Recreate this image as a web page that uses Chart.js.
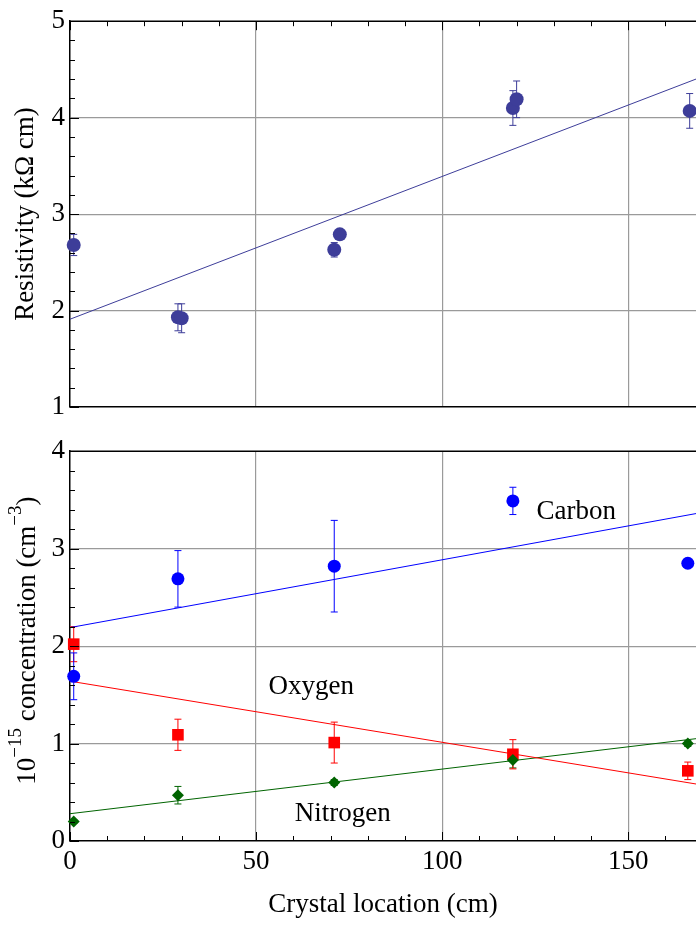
<!DOCTYPE html>
<html>
<head>
<meta charset="utf-8">
<script src="https://cdn.jsdelivr.net/npm/chart.js@4/dist/chart.umd.min.js"></script>
<style>
  body { margin: 0; background: #fff; }
  canvas { display: block; }
</style>
</head>
<body>
<canvas id="resChart" width="696" height="430"></canvas>
<canvas id="concChart" width="696" height="495"></canvas>
<script>
// resistivity samples (top panel)
var resX = [1, 29, 30, 71, 72.5, 119, 120, 166.5];
var resY = [2.68, 1.93, 1.92, 2.63, 2.79, 4.10, 4.19, 4.07];
var resErr = [0.11, 0.14, 0.15, 0.075, 0.03, 0.18, 0.19, 0.18];

// ends of the fitted straight lines
var fitX = [0, 168.2];
var resFit = [1.91, 4.40];

// impurity concentrations (bottom panel)
var locX = [1, 29, 71, 119, 166];
var carbonY = [1.69, 2.69, 2.82, 3.49, 2.85];
var carbonErr = [0.24, 0.29, 0.47, 0.14, 0];
var oxygenY = [2.02, 1.09, 1.01, 0.89, 0.72];
var oxygenErr = [0.18, 0.16, 0.21, 0.15, 0.09];
var nitrogenY = [0.20, 0.47, 0.60, 0.83, 1.00];
var nitrogenErr = [0.02, 0.09, 0.03, 0.08, 0.03];
var carbonFit = [2.19, 3.36];
var oxygenFit = [1.64, 0.585];
var nitrogenFit = [0.28, 1.05];

var serif = "'Liberation Serif', 'Times New Roman', serif";
Chart.defaults.font.family = serif;
Chart.defaults.font.size = 27;
Chart.defaults.color = '#000';

function pts(xs, ys) {
    return xs.map(function (x, i) { return { x: x, y: ys[i] }; });
}

function gridColor(c) {
    var s = c.scale;
    return (c.tick.value > s.min + 1e-6 && c.tick.value < s.max - 1e-6) ? '#9a9a9a' : 'rgba(0,0,0,0)';
}

// error bars under the markers
var errorBars = {
    id: 'errorBars',
    beforeDatasetsDraw: function (chart) {
        var ctx = chart.ctx, xs = chart.scales.x, ys = chart.scales.y;
        chart.data.datasets.forEach(function (ds) {
            if (!ds.errors) return;
            ctx.save();
            ctx.strokeStyle = ds.borderColor;
            ctx.lineWidth = 1;
            ds.data.forEach(function (p, i) {
                var e = ds.errors[i];
                if (!e) return;
                var px = xs.getPixelForValue(p.x);
                var top = ys.getPixelForValue(p.y + e);
                var bot = ys.getPixelForValue(p.y - e);
                ctx.beginPath();
                ctx.moveTo(px, top); ctx.lineTo(px, bot);
                ctx.moveTo(px - 3.5, top); ctx.lineTo(px + 3.5, top);
                ctx.moveTo(px - 3.5, bot); ctx.lineTo(px + 3.5, bot);
                ctx.stroke();
            });
            ctx.restore();
        });
    }
};

// frame line on top plus the small inward ticks
var frame = {
    id: 'frame',
    afterDraw: function (chart, args, opts) {
        var ctx = chart.ctx, a = chart.chartArea;
        var xs = chart.scales.x, ys = chart.scales.y;
        ctx.save();
        ctx.strokeStyle = '#000';
        ctx.lineWidth = 1;
        for (var v = ys.min; v <= ys.max + 1e-6; v += 0.2) {
            var py = Math.round(ys.getPixelForValue(v)) + 0.5;
            var len = Math.abs(v - Math.round(v)) < 1e-6 ? 9 : 5;
            ctx.beginPath(); ctx.moveTo(a.left, py); ctx.lineTo(a.left + len, py); ctx.stroke();
        }
        var y0 = opts.edge === 'top' ? a.top : a.bottom;
        var dir = opts.edge === 'top' ? 1 : -1;
        for (var x = 0; x <= xs.max; x += 10) {
            var px = Math.round(xs.getPixelForValue(x)) + 0.5;
            var l = x % 50 === 0 ? 9 : 5;
            ctx.beginPath(); ctx.moveTo(px, y0); ctx.lineTo(px, y0 + dir * l); ctx.stroke();
        }
        ctx.lineWidth = 1.5;
        ctx.beginPath(); ctx.moveTo(a.left, a.top); ctx.lineTo(a.right, a.top); ctx.stroke();
        ctx.restore();
    }
};

// series names written inside the plot
var seriesLabels = {
    id: 'seriesLabels',
    afterDraw: function (chart, args, opts) {
        if (!opts.items) return;
        var ctx = chart.ctx, xs = chart.scales.x, ys = chart.scales.y;
        ctx.save();
        ctx.font = '27px ' + serif;
        ctx.fillStyle = '#000';
        ctx.textAlign = 'center';
        ctx.textBaseline = 'alphabetic';
        opts.items.forEach(function (it) {
            ctx.fillText(it.text, xs.getPixelForValue(it.x), ys.getPixelForValue(it.y));
        });
        ctx.restore();
    }
};

// y title with superscripts
var supTitle = {
    id: 'supTitle',
    afterDraw: function (chart, args, opts) {
        if (!opts.parts) return;
        var ctx = chart.ctx, a = chart.chartArea;
        var main = '27px ' + serif, small = '19px ' + serif;
        ctx.save();
        var widths = [], total = 0;
        opts.parts.forEach(function (p) {
            ctx.font = p.sup ? small : main;
            var w = ctx.measureText(p.text).width;
            widths.push(w);
            total += w;
        });
        ctx.translate(opts.baseline, (a.top + a.bottom) / 2 + opts.shift);
        ctx.rotate(-Math.PI / 2);
        ctx.textBaseline = 'alphabetic';
        ctx.fillStyle = '#000';
        var x = -total / 2;
        opts.parts.forEach(function (p, i) {
            ctx.font = p.sup ? small : main;
            ctx.fillText(p.text, x, p.sup ? -opts.raise : 0);
            x += widths[i];
        });
        ctx.restore();
    }
};

function markerSet(data, errs, color, style, r) {
    return {
        data: data, errors: errs, borderColor: color, backgroundColor: color,
        pointStyle: style, pointRadius: r, pointBorderWidth: 0, showLine: false, clip: false
    };
}

function fitSet(ys, color) {
    return {
        data: pts(fitX, ys), borderColor: color, borderWidth: 1,
        pointRadius: 0, showLine: true
    };
}

var purple = '#3d3d99';

new Chart(document.getElementById('resChart'), {
    type: 'scatter',
    data: {
        datasets: [
            markerSet(pts(resX, resY), resErr, purple, 'circle', 7),
            fitSet(resFit, purple)
        ]
    },
    plugins: [errorBars, frame],
    options: {
        responsive: false,
        animation: false,
        layout: { autoPadding: false, padding: { top: 18, right: 0, bottom: 0, left: 0 } },
        plugins: { legend: { display: false }, tooltip: { enabled: false }, frame: { edge: 'top' } },
        scales: {
            x: {
                min: 0, max: 168.2,
                ticks: { display: false, stepSize: 50, includeBounds: false },
                grid: { color: gridColor, drawTicks: false, lineWidth: 1.2 },
                border: { color: '#000', width: 1.5 },
                afterFit: function (s) { s.height = 23; }
            },
            y: {
                min: 1, max: 5,
                ticks: { stepSize: 1, padding: 5 },
                grid: { color: gridColor, drawTicks: false, lineWidth: 1.2 },
                border: { color: '#000', width: 1.5 },
                title: { display: true, text: 'Resistivity (kΩ cm)', padding: { top: 10, bottom: 0 } },
                afterFit: function (s) { s.width = 70; }
            }
        }
    }
});

new Chart(document.getElementById('concChart'), {
    type: 'scatter',
    data: {
        datasets: [
            markerSet(pts(locX, nitrogenY), nitrogenErr, '#006400', 'rectRot', 6),
            markerSet(pts(locX, oxygenY), oxygenErr, '#ff0000', 'rect', 8.2),
            markerSet(pts(locX, carbonY), carbonErr, '#0000ff', 'circle', 6.5),
            fitSet(carbonFit, '#0000ff'),
            fitSet(oxygenFit, '#ff0000'),
            fitSet(nitrogenFit, '#006400')
        ]
    },
    plugins: [errorBars, frame, seriesLabels, supTitle],
    options: {
        responsive: false,
        animation: false,
        layout: { autoPadding: false, padding: { top: 21, right: 0, bottom: 0, left: 0 } },
        plugins: {
            legend: { display: false },
            tooltip: { enabled: false },
            frame: { edge: 'bottom' },
            seriesLabels: {
                items: [
                    { text: 'Carbon', x: 136, y: 3.30 },
                    { text: 'Oxygen', x: 64.8, y: 1.51 },
                    { text: 'Nitrogen', x: 73.3, y: 0.205 }
                ]
            },
            supTitle: {
                baseline: 35, shift: -5.5, raise: 14,
                parts: [
                    { text: '10' }, { text: '\u221215', sup: true },
                    { text: ' concentration (cm' }, { text: '\u22123', sup: true },
                    { text: ')' }
                ]
            }
        },
        scales: {
            x: {
                min: 0, max: 168.2,
                ticks: { stepSize: 50, includeBounds: false, padding: 5, maxRotation: 0 },
                grid: { color: gridColor, drawTicks: false, lineWidth: 1.2 },
                border: { color: '#000', width: 1.5 },
                title: { display: true, text: 'Crystal location (cm)', padding: { top: 0, bottom: 4 } },
                afterFit: function (s) { s.height = 84; }
            },
            y: {
                min: 0, max: 4,
                ticks: { stepSize: 1, padding: 5 },
                grid: { color: gridColor, drawTicks: false, lineWidth: 1.2 },
                border: { color: '#000', width: 1.5 },
                afterFit: function (s) { s.width = 70; }
            }
        }
    }
});
</script>
</body>
</html>
